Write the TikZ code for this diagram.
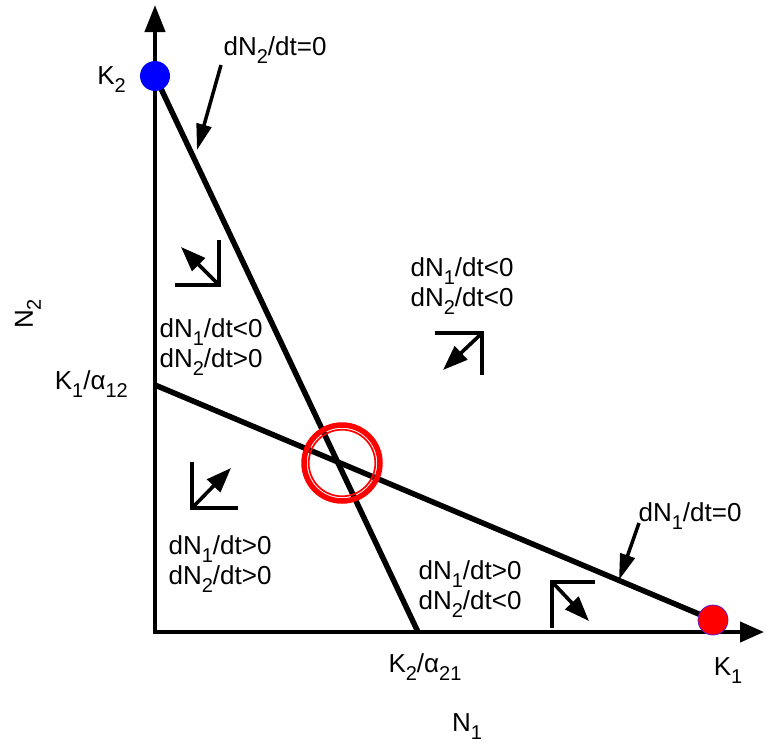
\documentclass[tikz,border=0pt]{standalone}
\usepackage{fontspec}
\setmainfont{Liberation Sans}
\usetikzlibrary{arrows.meta}
\newcommand\sbs[1]{\raisebox{-8pt}[0pt][0pt]{\fontsize{20}{20}\selectfont #1}}
\begin{document}
\begin{tikzpicture}[x=1pt,y=-1pt,
  lbl/.style={font=\fontsize{26}{30}\selectfont, inner sep=0pt, align=center, anchor=north},
  axisline/.style={line width=4.3pt, {Triangle[length=27pt,width=20pt]}-{Triangle[length=24pt,width=20pt]}},
  nullcline/.style={line width=5.5pt},
  callout/.style={line width=3.5pt,-{Triangle[length=26pt,width=15pt]}},
  cornerline/.style={line width=3.8pt},
  fieldarrow/.style={line width=3.6pt,-{Triangle[length=25pt,width=18pt]}},
  dot/.style={circle, minimum size=30pt, inner sep=0pt},
]
\useasboundingbox (0,0) rectangle (765,744);
% axes
\coordinate (ytip) at (155,5);
\coordinate (O) at (155,632);
\coordinate (xtip) at (764,632);
\draw[axisline] (ytip) -- (O) -- (xtip);
% nullclines
\coordinate (K2pt) at (155,76);
\coordinate (K2a) at (418,632);
\coordinate (K1a) at (155,385);
\coordinate (K1pt) at (713,620);
\draw[nullcline] (K2pt) -- (K2a);
\draw[nullcline] (K1a) -- (K1pt);
% equilibrium marker
\coordinate (eq) at (342,463);
\draw[red, line width=5.5pt] (eq) circle[radius=38pt];
\draw[red, line width=1.7pt] (eq) circle[radius=33.3pt];
% carrying capacity dots
\node[dot, fill=blue] (K2dot) at (K2pt) {};
\node[dot, fill=red, draw={rgb,255:red,90;green,30;blue,200}, line width=0.8pt] (K1dot) at (K1pt) {};
% callouts
\node[lbl] (n2zero) at (275,36) {dN\sbs{2}/dt=0};
\node[lbl] (n1zero) at (690,502) {dN\sbs{1}/dt=0};
\coordinate (c2tail) at (221,65);
\coordinate (c2head) at (197,150);
\coordinate (c1tail) at (639,523);
\coordinate (c1head) at (619,580);
\draw[callout] (c2tail) -- (c2head);
\draw[callout] (c1tail) -- (c1head);
% region labels
\node[lbl] (regUL) at (211,318) {dN\sbs{1}/dt<0\\dN\sbs{2}/dt>0};
\node[lbl] (regUR) at (462,257) {dN\sbs{1}/dt<0\\dN\sbs{2}/dt<0};
\node[lbl] (regBL) at (220,535) {dN\sbs{1}/dt>0\\dN\sbs{2}/dt>0};
\node[lbl] (regBR) at (470,560) {dN\sbs{1}/dt>0\\dN\sbs{2}/dt<0};
% direction marks
\coordinate (ulC) at (219,285);
\coordinate (ulA) at (219,240);
\coordinate (ulB) at (175,285);
\coordinate (ulS) at (217,283);
\coordinate (ulT) at (181,247);
\draw[cornerline] (ulA) -- (ulC) -- (ulB);
\draw[fieldarrow] (ulS) -- (ulT);
\coordinate (urC) at (482,333);
\coordinate (urA) at (435,333);
\coordinate (urB) at (482,375);
\coordinate (urS) at (480,335);
\coordinate (urT) at (443,370);
\draw[cornerline] (urA) -- (urC) -- (urB);
\draw[fieldarrow] (urS) -- (urT);
\coordinate (blC) at (192,508);
\coordinate (blA) at (192,462);
\coordinate (blB) at (238,508);
\coordinate (blS) at (194,506);
\coordinate (blT) at (231,468);
\draw[cornerline] (blA) -- (blC) -- (blB);
\draw[fieldarrow] (blS) -- (blT);
\coordinate (brC) at (552,582);
\coordinate (brA) at (595,582);
\coordinate (brB) at (552,628);
\coordinate (brS) at (554,584);
\coordinate (brT) at (589,621);
\draw[cornerline] (brA) -- (brC) -- (brB);
\draw[fieldarrow] (brS) -- (brT);
% axis labels
\node[lbl, anchor=north east] (K2lbl) at (126,66) {K\sbs{2}};
\node[lbl, anchor=north east] (K1albl) at (128,370) {K\sbs{1}/α\sbs{12}};
\node[lbl] (K2albl) at (425,653) {K\sbs{2}/α\sbs{21}};
\node[lbl] (K1lbl) at (728,657) {K\sbs{1}};
\node[lbl] (N1lbl) at (467,713) {N\sbs{1}};
\node[lbl, anchor=center, rotate=90] (N2lbl) at (24,314) {N\sbs{2}};
\end{tikzpicture}
\end{document}
